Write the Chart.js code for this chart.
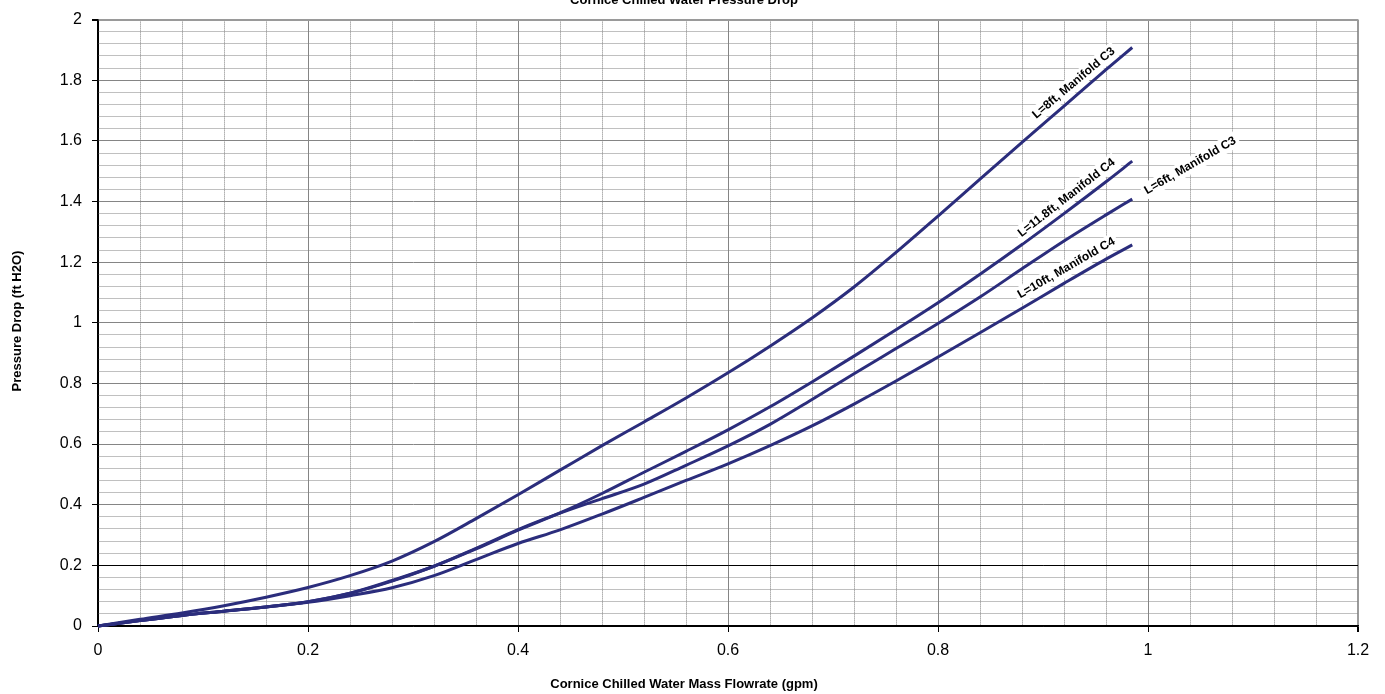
<!DOCTYPE html>
<html>
<head>
<meta charset="utf-8">
<script src="https://cdn.jsdelivr.net/npm/chart.js@4.4.0/dist/chart.umd.min.js"></script>
<style>
  html, body { margin: 0; padding: 0; background: #fff; }
  #wrap { width: 1385px; height: 694px; }
</style>
</head>
<body>
<div id="wrap"><canvas id="pressureChart" width="1385" height="694"></canvas></div>
<script>
// Flowrate samples (gpm), shared by every curve
const flowrates = [0, 0.04, 0.08, 0.12, 0.16, 0.2, 0.24, 0.28, 0.32, 0.36, 0.4, 0.44, 0.48,
  0.52, 0.56, 0.6, 0.64, 0.68, 0.72, 0.76, 0.8, 0.84, 0.88, 0.92, 0.96, 0.985];

// Pressure drop (ft H2O) for each manifold / length
const drop8ftC3 = [0, 0.022, 0.043, 0.067, 0.095, 0.127, 0.166, 0.214, 0.278, 0.354, 0.433, 0.514, 0.595,
  0.673, 0.752, 0.835, 0.923, 1.016, 1.118, 1.232, 1.352, 1.474, 1.595, 1.715, 1.835, 1.908];
const drop118ftC4 = [0, 0.018, 0.035, 0.049, 0.063, 0.08, 0.108, 0.148, 0.197, 0.254, 0.316, 0.373, 0.437,
  0.507, 0.576, 0.647, 0.723, 0.805, 0.89, 0.977, 1.066, 1.16, 1.258, 1.36, 1.465, 1.533];
const drop6ftC3 = [0, 0.018, 0.035, 0.049, 0.063, 0.08, 0.108, 0.15, 0.197, 0.256, 0.318, 0.372, 0.42,
  0.468, 0.53, 0.594, 0.665, 0.747, 0.832, 0.915, 0.998, 1.085, 1.178, 1.27, 1.356, 1.408];
const drop10ftC4 = [0, 0.018, 0.035, 0.049, 0.063, 0.078, 0.1, 0.126, 0.166, 0.219, 0.272, 0.317, 0.369,
  0.424, 0.48, 0.535, 0.595, 0.66, 0.732, 0.808, 0.887, 0.967, 1.048, 1.13, 1.21, 1.257];

const seriesNames = ["L=8ft, Manifold C3", "L=11.8ft, Manifold C4", "L=6ft, Manifold C3", "L=10ft, Manifold C4"];
const seriesValues = [drop8ftC3, drop118ftC4, drop6ftC3, drop10ftC4];

const chartTitle = "Cornice Chilled Water Pressure Drop";
const xTitle = "Cornice Chilled Water Mass Flowrate (gpm)";
const yTitle = "Pressure Drop (ft H2O)";

const lineColor = "#2b2d7c";

// where each curve label sits: flowrate anchor, angle, shift along the line, shift off the line
const labelSpots = [
  { at: 0.936, angle: 40, along: 0, off: 11 },
  { at: 0.929, angle: 38, along: 0, off: 11 },
  { at: 0.985, angle: 30, along: 67, off: 0 },
  { at: 0.928, angle: 30, along: 0, off: 12 },
];

function isMajor(v) {
  const k = v / 0.2;
  return Math.abs(k - Math.round(k)) < 1e-6;
}

function majorLabel(v) {
  return isMajor(v) ? String(+v.toFixed(1)) : "";
}

function valueAt(xs, ys, x) {
  for (let i = 1; i < xs.length; i++) {
    if (x <= xs[i]) {
      const t = (x - xs[i - 1]) / (xs[i] - xs[i - 1]);
      return ys[i - 1] + t * (ys[i] - ys[i - 1]);
    }
  }
  return ys[ys.length - 1];
}

function gridColor(top, specialBlack) {
  return (ctx) => {
    if (!ctx.tick) return "#808080";
    const v = ctx.tick.value;
    if (Math.abs(v) < 1e-9) return "#000";
    if (specialBlack && Math.abs(v - 0.2) < 1e-9) return "#000";
    if (Math.abs(v - top) < 1e-9) return "#9a9a9a";
    return isMajor(v) ? "#858585" : "#808080";
  };
}

function gridWidth(top) {
  return (ctx) => {
    if (!ctx.tick) return 1;
    return Math.abs(ctx.tick.value - top) < 1e-9 ? 2 : 1;
  };
}

// plugin: clipped title, axis titles and labels along the curves
const textPlugin = {
  id: "textPlugin",
  afterDraw(chart) {
    const ctx = chart.ctx;
    const xs = chart.scales.x;
    const ys = chart.scales.y;
    ctx.save();
    ctx.fillStyle = "#000";
    ctx.textAlign = "center";
    ctx.textBaseline = "alphabetic";
    ctx.font = "bold 13px 'Liberation Sans', Arial, sans-serif";
    ctx.fillText(chartTitle, 684, 4);
    ctx.textBaseline = "middle";
    ctx.fillText(xTitle, 684, 684);
    ctx.save();
    ctx.translate(17, 321);
    ctx.rotate(-Math.PI / 2);
    ctx.fillText(yTitle, 0, 0);
    ctx.restore();

    ctx.font = "bold 12px 'Liberation Sans', Arial, sans-serif";
    labelSpots.forEach((spot, i) => {
      const px = xs.getPixelForValue(spot.at);
      const py = ys.getPixelForValue(valueAt(flowrates, seriesValues[i], spot.at));
      const a = spot.angle * Math.PI / 180;
      const cx = px + spot.along * Math.cos(a) - spot.off * Math.sin(a);
      const cy = py - spot.along * Math.sin(a) - spot.off * Math.cos(a);
      const w = ctx.measureText(seriesNames[i]).width;
      ctx.save();
      ctx.translate(cx, cy);
      ctx.rotate(-a);
      ctx.fillStyle = "#fff";
      ctx.fillRect(-w / 2 - 3, -8, w + 6, 16);
      ctx.fillStyle = "#000";
      ctx.fillText(seriesNames[i], 0, 0);
      ctx.restore();
    });
    ctx.restore();
  },
};

const datasets = seriesValues.map((vals, i) => ({
  label: seriesNames[i],
  data: flowrates.map((x, j) => ({ x: x, y: vals[j] })),
  borderColor: lineColor,
  borderWidth: 3,
  pointRadius: 0,
  fill: false,
  cubicInterpolationMode: "monotone",
  clip: false,
}));

new Chart(document.getElementById("pressureChart"), {
  type: "line",
  data: { datasets: datasets },
  plugins: [textPlugin],
  options: {
    responsive: false,
    animation: false,
    devicePixelRatio: 1,
    layout: { padding: { top: 16, right: 27, left: 0, bottom: 0 } },
    plugins: { legend: { display: false }, tooltip: { enabled: false } },
    scales: {
      x: {
        type: "linear",
        min: 0,
        max: 1.2,
        afterFit: (scale) => { scale.height = 68; },
        ticks: {
          stepSize: 0.04,
          maxTicksLimit: 100,
          autoSkip: false,
          maxRotation: 0,
          padding: 9,
          color: "#000",
          font: { family: "'Liberation Sans', Arial, sans-serif", size: 16 },
          callback: (v) => majorLabel(v),
        },
        grid: {
          color: gridColor(1.2, false),
          lineWidth: gridWidth(1.2),
          tickLength: 6,
          tickColor: (ctx) => (ctx.tick && isMajor(ctx.tick.value) ? "#000" : "rgba(0,0,0,0)"),
        },
        border: {
          color: "#000",
          width: 1.5,
          dash: (ctx) => (ctx.tick && !isMajor(ctx.tick.value) ? [1, 1] : []),
        },
      },
      y: {
        type: "linear",
        min: 0,
        max: 2,
        afterFit: (scale) => { scale.width = 98; },
        ticks: {
          stepSize: 0.04,
          maxTicksLimit: 100,
          autoSkip: false,
          padding: 10,
          color: "#000",
          font: { family: "'Liberation Sans', Arial, sans-serif", size: 16 },
          callback: (v) => majorLabel(v),
        },
        grid: {
          color: gridColor(2, true),
          lineWidth: gridWidth(2),
          tickLength: 6,
          tickColor: (ctx) => (ctx.tick && isMajor(ctx.tick.value) ? "#000" : "rgba(0,0,0,0)"),
        },
        border: {
          color: "#000",
          width: 1.5,
          dash: (ctx) => (ctx.tick && !isMajor(ctx.tick.value) ? [1, 1] : []),
        },
      },
    },
  },
});
</script>
</body>
</html>
